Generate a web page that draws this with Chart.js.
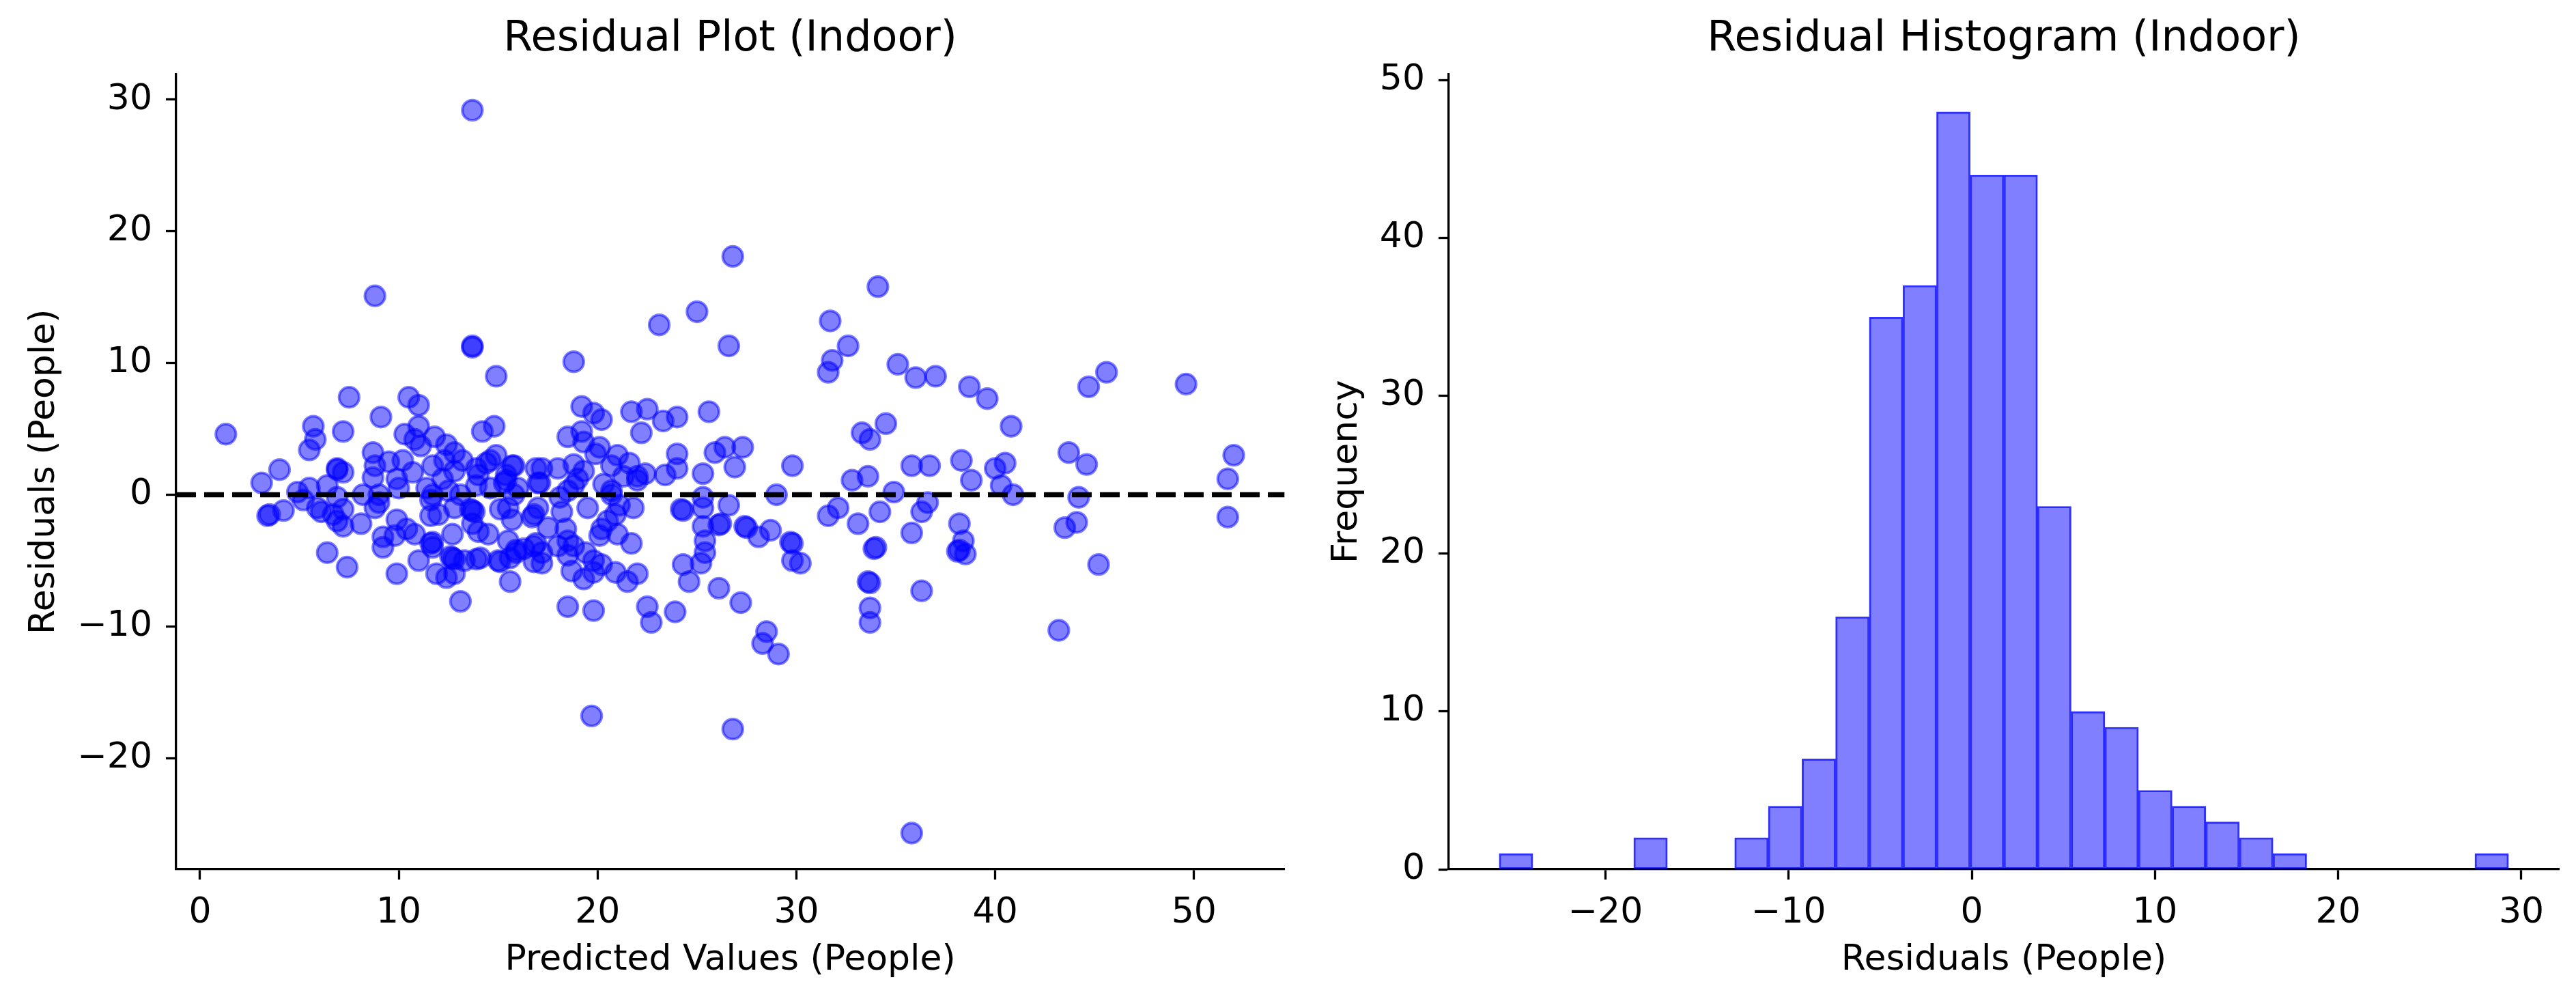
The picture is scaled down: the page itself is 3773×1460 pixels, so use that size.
<!DOCTYPE html>
<html>
<head>
<meta charset="utf-8">
<title>Residuals (Indoor)</title>
<script src="https://cdn.jsdelivr.net/npm/chart.js@4"></script>
<style>
  html, body { margin: 0; padding: 0; background: #fff; }
  #wrap { position: relative; width: 3773px; height: 1460px; }
  canvas { position: absolute; top: 0; }
  #residualChart { left: 0; }
  #histChart { left: 1900px; }
</style>
</head>
<body>
<div id="wrap">
  <canvas id="residualChart" width="1900" height="1460"></canvas>
  <canvas id="histChart" width="1873" height="1460"></canvas>
</div>
<script>
// Residual plot data
const predicted = [
  13.7, 8.8, 13.7, 13.7, 26.8, 34.1, 25.0, 23.1, 31.7, 26.6,
  32.6, 31.8, 31.6, 18.8, 35.1, 45.6, 14.9, 36.0, 37.0, 38.7,
  39.6, 44.7, 49.6, 1.3, 7.5, 10.5, 11.0, 9.1, 5.7, 7.2,
  5.8, 5.5, 10.3, 11.0, 14.2, 14.8, 10.8, 11.8, 11.1, 12.4,
  12.8, 8.7, 10.2, 12.3, 8.8, 6.9, 6.9, 7.2, 14.6, 14.4,
  14.9, 15.7, 13.2, 13.9, 16.9, 11.7, 10.7, 8.7, 9.9, 12.2,
  12.8, 15.4, 17.0, 4.0, 3.1, 4.9, 5.5, 6.4, 6.9, 8.2,
  9.0, 11.4, 11.7, 13.1, 13.9, 14.6, 15.3, 15.8, 11.6, 12.8,
  13.7, 13.8, 13.6, 15.1, 15.7, 16.8, 3.5, 3.4, 4.2, 5.2,
  5.9, 6.1, 6.7, 7.2, 6.9, 7.2, 8.1, 8.8, 9.0, 9.9,
  10.4, 10.8, 11.6, 12.7, 13.7, 14.0, 9.2, 9.8, 9.2, 11.6,
  11.7, 11.7, 11.0, 9.9, 12.4, 12.8, 11.9, 12.7, 12.6, 12.8,
  13.3, 13.9, 15.0, 15.1, 15.6, 15.5, 15.9, 16.3, 16.8, 16.9,
  6.4, 7.4, 13.1,
  19.2, 19.8, 20.2, 21.7, 22.5, 23.3, 24.0, 22.2, 25.6, 18.5,
  19.2, 19.3, 20.1, 19.9, 20.7, 21.6, 22.4, 23.4, 24.0, 24.0,
  25.3, 25.9, 26.4, 27.3, 26.9, 29.8, 29.0, 32.8, 33.6, 33.3,
  33.7, 34.5, 35.8, 36.7, 34.9, 36.6, 36.3, 34.2, 33.1, 35.8,
  32.1, 31.6, 34.0, 33.9, 33.7, 33.6, 33.7, 33.7, 36.3, 38.2,
  38.3, 38.4, 38.2, 38.1, 38.5,
  15.8, 15.4, 17.2, 18.0, 17.1, 18.8, 19.3, 19.0, 18.5, 18.1,
  18.8, 20.3, 20.7, 22.0, 21.8, 21.1, 20.9, 20.5, 20.2, 20.1,
  21.0, 21.7, 15.5, 16.7, 17.0, 18.2, 18.4, 18.5, 18.8, 15.9,
  16.8, 17.2, 18.0, 18.5, 14.1, 15.6, 17.2, 18.7, 19.3, 19.8,
  20.2, 20.9, 21.5, 22.0, 19.4, 19.8, 18.5, 19.8, 22.5, 22.7,
  23.9, 26.1, 27.2, 28.5, 28.3, 29.1, 24.2, 24.3, 25.3, 25.3,
  25.3, 25.4, 25.4, 25.2, 24.3, 24.6, 26.2, 26.1, 26.6, 27.4,
  27.5, 28.1, 28.7, 29.8, 29.7, 29.8, 30.2, 22.0, 21.3, 20.7,
  40.8, 38.8, 40.0, 40.5, 40.3, 40.9, 43.7, 44.6, 44.2, 44.1,
  43.5, 45.2, 43.2, 52.0, 51.7, 51.7,
  19.7, 26.8, 35.8,
  10.0, 12.0, 14.0, 16.0, 17.5, 19.5, 9.5, 12.5, 14.5, 21.0
];
const residuals = [
  29.2, 15.1, 11.2, 11.3, 18.1, 15.8, 13.9, 12.9, 13.2, 11.3,
  11.3, 10.2, 9.3, 10.1, 9.9, 9.3, 9.0, 8.9, 9.0, 8.2,
  7.3, 8.2, 8.4, 4.6, 7.4, 7.4, 6.8, 5.9, 5.2, 4.8,
  4.2, 3.4, 4.6, 5.2, 4.8, 5.2, 4.2, 4.4, 3.7, 3.8,
  3.2, 3.2, 2.6, 2.6, 2.2, 2.0, 1.9, 1.7, 2.6, 2.4,
  3.0, 2.2, 2.6, 2.0, 2.0, 2.2, 1.7, 1.3, 1.2, 1.2,
  1.8, 1.5, 0.9, 1.9, 0.9, 0.2, 0.5, 0.7, -0.2, 0.0,
  0.0, 0.5, 0.0, 0.0, 0.7, 0.5, 0.9, 0.0, -0.4, -1.0,
  -1.2, -1.3, -1.1, -1.1, -1.9, -1.5, -1.5, -1.6, -1.2, -0.4,
  -1.0, -1.3, -1.5, -1.1, -2.0, -2.4, -2.2, -1.0, -0.6, -1.9,
  -2.6, -3.0, -1.6, -3.0, -2.2, -2.8, -3.2, -3.1, -4.0, -3.7,
  -3.6, -4.0, -5.0, -6.0, -6.3, -6.0, -6.0, -4.8, -4.7, -4.9,
  -5.0, -4.9, -5.0, -5.1, -6.6, -3.5, -4.4, -4.1, -5.1, -3.7,
  -4.4, -5.5, -8.1,
  6.7, 6.2, 5.7, 6.3, 6.5, 5.6, 5.9, 4.7, 6.3, 4.4,
  4.8, 4.0, 3.6, 3.1, 2.2, 2.4, 1.6, 1.5, 3.1, 2.0,
  1.6, 3.2, 3.6, 3.6, 2.1, 2.2, 0.0, 1.1, 1.4, 4.7,
  4.2, 5.4, 2.2, 2.2, 0.2, -0.6, -1.3, -1.3, -2.2, -2.9,
  -1.0, -1.6, -4.0, -4.1, -6.7, -6.6, -8.6, -9.7, -7.3, -2.2,
  2.6, -3.5, -4.2, -4.3, -4.5,
  2.2, 1.1, 2.0, 2.0, 0.9, 2.3, 1.8, 1.2, 0.3, -0.2,
  0.7, 0.8, 0.3, 1.4, -1.0, -0.8, -1.5, -2.0, -2.6, -3.1,
  -3.0, -3.7, -1.0, -1.7, -1.0, -1.3, -2.6, -3.5, -3.9, -4.2,
  -3.9, -4.4, -3.9, -4.6, -4.8, -4.8, -5.2, -5.8, -6.4, -5.9,
  -5.3, -5.9, -6.6, -6.0, -4.4, -5.0, -8.5, -8.8, -8.5, -9.7,
  -8.9, -7.1, -8.2, -10.4, -11.3, -12.1, -1.1, -1.2, -0.2, -1.0,
  -2.4, -3.5, -4.4, -5.2, -5.3, -6.6, -2.2, -2.3, -0.8, -2.4,
  -2.5, -3.2, -2.7, -3.7, -3.6, -5.0, -5.2, 1.1, 1.4, 0.0,
  5.2, 1.1, 2.0, 2.4, 0.7, 0.0, 3.2, 2.3, -0.2, -2.1,
  -2.5, -5.3, -10.3, 3.0, 1.2, -1.7,
  -16.8, -17.8, -25.7,
  0.5, -1.5, 1.5, 0.5, -2.5, -1.0, 2.5, 0.3, -3.0, 3.0
];
const residualXTicks = [0, 10, 20, 30, 40, 50];
const residualYTicks = [-20, -10, 0, 10, 20, 30];

// Histogram data: 30 equal bins between the smallest and largest residual
const binLow = -25.8;
const binHigh = 29.3;
const binCounts = [
  1, 0, 0, 0, 2, 0, 0, 2, 4, 7,
  16, 35, 37, 48, 44, 44, 23, 10, 9, 5,
  4, 3, 2, 1, 0, 0, 0, 0, 0, 1
];
const histXTicks = [-20, -10, 0, 10, 20, 30];
const histYTicks = [0, 10, 20, 30, 40, 50];

Chart.defaults.font.family = "'DejaVu Sans', sans-serif";
Chart.defaults.color = '#000';

const TICK_FONT = 52;
const LABEL_FONT = 52;
const TITLE_FONT = 62;
const LINE_W = 3.3;

const fmt = (v) => (v < 0 ? '\u2212' + Math.abs(v) : String(v));

function axis(opts) {
  return {
    type: 'linear',
    min: opts.min,
    max: opts.max,
    offset: false,
    afterBuildTicks: (scale) => { scale.ticks = opts.ticks.map(v => ({ value: v })); },
    afterFit: opts.fit,
    ticks: {
      font: { size: TICK_FONT },
      padding: opts.tickPad,
      callback: (v) => fmt(v),
      maxRotation: 0,
      autoSkip: false
    },
    grid: {
      display: true,
      offset: false,
      drawOnChartArea: false,
      drawTicks: true,
      tickLength: 15,
      tickWidth: LINE_W,
      tickColor: '#000'
    },
    border: { display: true, color: '#000', width: LINE_W },
    title: {
      display: true,
      text: opts.title,
      font: { size: LABEL_FONT },
      padding: opts.titlePad
    }
  };
}

function titleOpts(text) {
  return {
    display: true,
    text: text,
    fullSize: false,
    font: { size: TITLE_FONT, weight: 'normal' },
    color: '#000',
    padding: { top: 21, bottom: 13 }
  };
}

// dashed reference line at zero residual
const zeroLine = {
  id: 'zeroLine',
  afterDatasetsDraw(chart) {
    const { ctx, chartArea, scales } = chart;
    const y = scales.y.getPixelForValue(0);
    ctx.save();
    ctx.strokeStyle = '#000';
    ctx.lineWidth = 7.5;
    ctx.setLineDash([29, 12]);
    ctx.beginPath();
    ctx.moveTo(chartArea.left, y);
    ctx.lineTo(chartArea.right, y);
    ctx.stroke();
    ctx.restore();
  }
};

// Residual scatter
const points = predicted.map((p, i) => ({ x: p, y: residuals[i] }));
new Chart(document.getElementById('residualChart'), {
  type: 'scatter',
  data: {
    datasets: [{
      data: points,
      pointBackgroundColor: 'rgba(0, 0, 255, 0.5)',
      pointBorderColor: 'rgba(0, 0, 255, 0.5)',
      pointBorderWidth: 4,
      pointRadius: 14.7,
      pointHoverRadius: 14.7
    }]
  },
  options: {
    responsive: false,
    animation: false,
    devicePixelRatio: 1,
    events: [],
    layout: { padding: { right: 14 } },
    plugins: {
      legend: { display: false },
      tooltip: { enabled: false },
      title: titleOpts('Residual Plot (Indoor)')
    },
    scales: {
      x: axis({
        min: -1.2, max: 54.55, ticks: residualXTicks,
        title: 'Predicted Values (People)',
        tickPad: 18, titlePad: { bottom: 22 },
        fit: (s) => { s.height = 187; }
      }),
      y: axis({
        min: -28.45, max: 31.95, ticks: residualYTicks,
        title: 'Residuals (People)',
        tickPad: 20, titlePad: { top: 34 },
        fit: (s) => { s.width = 258; }
      })
    }
  },
  plugins: [zeroLine]
});

// Residual histogram
const binWidth = (binHigh - binLow) / binCounts.length;
const bins = binCounts.map((c, i) => ({ x: binLow + (i + 0.5) * binWidth, y: c }));
new Chart(document.getElementById('histChart'), {
  type: 'bar',
  data: {
    datasets: [{
      data: bins,
      backgroundColor: 'rgba(0, 0, 255, 0.5)',
      borderColor: 'rgba(0, 0, 255, 0.8)',
      borderWidth: 2.2,
      borderSkipped: false,
      barPercentage: 1,
      categoryPercentage: 1
    }]
  },
  options: {
    responsive: false,
    animation: false,
    devicePixelRatio: 1,
    events: [],
    layout: { padding: { right: 25 } },
    plugins: {
      legend: { display: false },
      tooltip: { enabled: false },
      title: titleOpts('Residual Histogram (Indoor)')
    },
    scales: {
      x: axis({
        min: -28.55, max: 32.05, ticks: histXTicks,
        title: 'Residuals (People)',
        tickPad: 18, titlePad: { bottom: 22 },
        fit: (s) => { s.height = 187; }
      }),
      y: axis({
        min: 0, max: 50.4, ticks: histYTicks,
        title: 'Frequency',
        tickPad: 20, titlePad: { top: 42 },
        fit: (s) => { s.width = 222; }
      })
    }
  }
});
</script>
</body>
</html>
